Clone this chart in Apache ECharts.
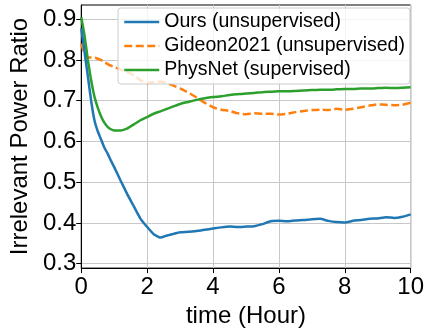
<!DOCTYPE html>
<html>
<head>
<meta charset="utf-8">
<script src="https://cdn.jsdelivr.net/npm/echarts@6/dist/echarts.min.js"></script>
<style>
html,body{margin:0;padding:0;background:#fff;}
#chart{width:427px;height:333px;}
</style>
</head>
<body>
<div id="chart"></div>
<script>
const time = [0,0.1,0.2,0.3,0.4,0.5,0.6,0.7,0.8,0.9,1.0,1.2,1.4,1.6,1.8,2.0,2.2,2.4,2.6,2.8,3.0,3.25,3.5,3.75,4.0,4.25,4.5,4.75,5.0,5.25,5.5,5.75,6.0,6.25,6.5,6.75,7.0,7.25,7.5,7.75,8.0,8.25,8.5,8.75,9.0,9.25,9.5,9.75,10];
const ours = [0.878,0.82,0.76,0.70,0.652,0.625,0.605,0.585,0.57,0.553,0.537,0.503,0.47,0.44,0.41,0.39,0.372,0.364,0.369,0.373,0.377,0.378,0.380,0.383,0.386,0.389,0.391,0.390,0.391,0.392,0.397,0.404,0.405,0.404,0.406,0.407,0.409,0.410,0.405,0.402,0.401,0.405,0.407,0.410,0.411,0.414,0.412,0.415,0.421];
const gideon = [0.84,0.815,0.806,0.806,0.806,0.803,0.800,0.795,0.790,0.786,0.783,0.776,0.770,0.762,0.750,0.743,0.746,0.747,0.743,0.737,0.730,0.720,0.708,0.695,0.684,0.678,0.675,0.669,0.667,0.669,0.668,0.668,0.666,0.668,0.672,0.675,0.677,0.678,0.677,0.680,0.678,0.680,0.684,0.688,0.691,0.690,0.689,0.690,0.695];
const physnet = [0.905,0.86,0.80,0.75,0.71,0.683,0.662,0.646,0.636,0.630,0.627,0.627,0.632,0.642,0.652,0.660,0.668,0.674,0.680,0.686,0.692,0.697,0.702,0.706,0.709,0.711,0.714,0.716,0.718,0.719,0.721,0.722,0.723,0.723,0.724,0.725,0.726,0.727,0.727,0.728,0.729,0.729,0.730,0.730,0.731,0.732,0.731,0.732,0.733];
const seriesNames = ['Ours (unsupervised)','Gideon2021 (unsupervised)','PhysNet (supervised)'];
const yTicks = [0.3,0.4,0.5,0.6,0.7,0.8,0.9];
const xTicks = [0,2,4,6,8,10];

const FONT = '"Liberation Sans", Arial, sans-serif';
const pair = (ys) => time.map((t,i)=>[t, ys[i]]);

const chart = echarts.init(document.getElementById('chart'), null, {renderer:'canvas'});
chart.setOption({
  animation:false,
  backgroundColor:'#fff',
  textStyle:{fontFamily:FONT},
  grid:{left:77,right:16,top:5,bottom:51,show:true,borderColor:'#000',borderWidth:1,backgroundColor:'transparent'},
  legend:{
    orient:'vertical', left:118, top:8,
    padding:[4,5,4,5],
    itemWidth:35, itemHeight:14, itemGap:4,
    itemStyle:{opacity:0},
    lineStyle:{width:2.5},
    backgroundColor:'rgba(255,255,255,0.8)',
    borderColor:'#cccccc', borderWidth:1, borderRadius:3,
    textStyle:{fontFamily:FONT, fontSize:19.5, color:'#000', lineHeight:18},
    data:seriesNames
  },
  xAxis:{
    type:'value', min:0, max:10, interval:2,
    name:'time (Hour)', nameLocation:'middle', nameGap:27,
    nameTextStyle:{fontFamily:FONT,fontSize:24,color:'#000'},
    axisLine:{show:true,lineStyle:{color:'#000',width:1}},
    axisTick:{show:true,length:5,inside:false,lineStyle:{color:'#000'},customValues:xTicks},
    axisLabel:{fontFamily:FONT,fontSize:24,color:'#000',margin:7,customValues:xTicks},
    splitLine:{show:true,lineStyle:{color:'#c8c8c8',width:1}}
  },
  yAxis:{
    type:'value', min:0.289, max:0.935,
    name:'Irrelevant Power Ratio', nameLocation:'middle', nameGap:43,
    nameTextStyle:{fontFamily:FONT,fontSize:24,color:'#000'},
    axisLine:{show:true,lineStyle:{color:'#000',width:1}},
    axisTick:{show:true,length:5,inside:false,lineStyle:{color:'#000'},customValues:yTicks},
    axisLabel:{fontFamily:FONT,fontSize:24,color:'#000',margin:5,customValues:yTicks,formatter:(v)=>v.toFixed(1)},
    splitLine:{show:true,lineStyle:{color:'#c8c8c8',width:1}}
  },
  series:[
    {name:seriesNames[0],type:'line',data:pair(ours),symbol:'none',smooth:0.15,lineStyle:{color:'#1f77b4',width:2.5},itemStyle:{color:'#1f77b4'},z:4},
    {name:seriesNames[1],type:'line',data:pair(gideon),symbol:'none',smooth:0.15,lineStyle:{color:'#ff7f0e',width:2.5,type:[8,3.5]},itemStyle:{color:'#ff7f0e'},z:3},
    {name:seriesNames[2],type:'line',data:pair(physnet),symbol:'none',smooth:0.15,lineStyle:{color:'#2ca02c',width:2.5},itemStyle:{color:'#2ca02c'},z:3}
  ]
});
</script>
</body>
</html>
